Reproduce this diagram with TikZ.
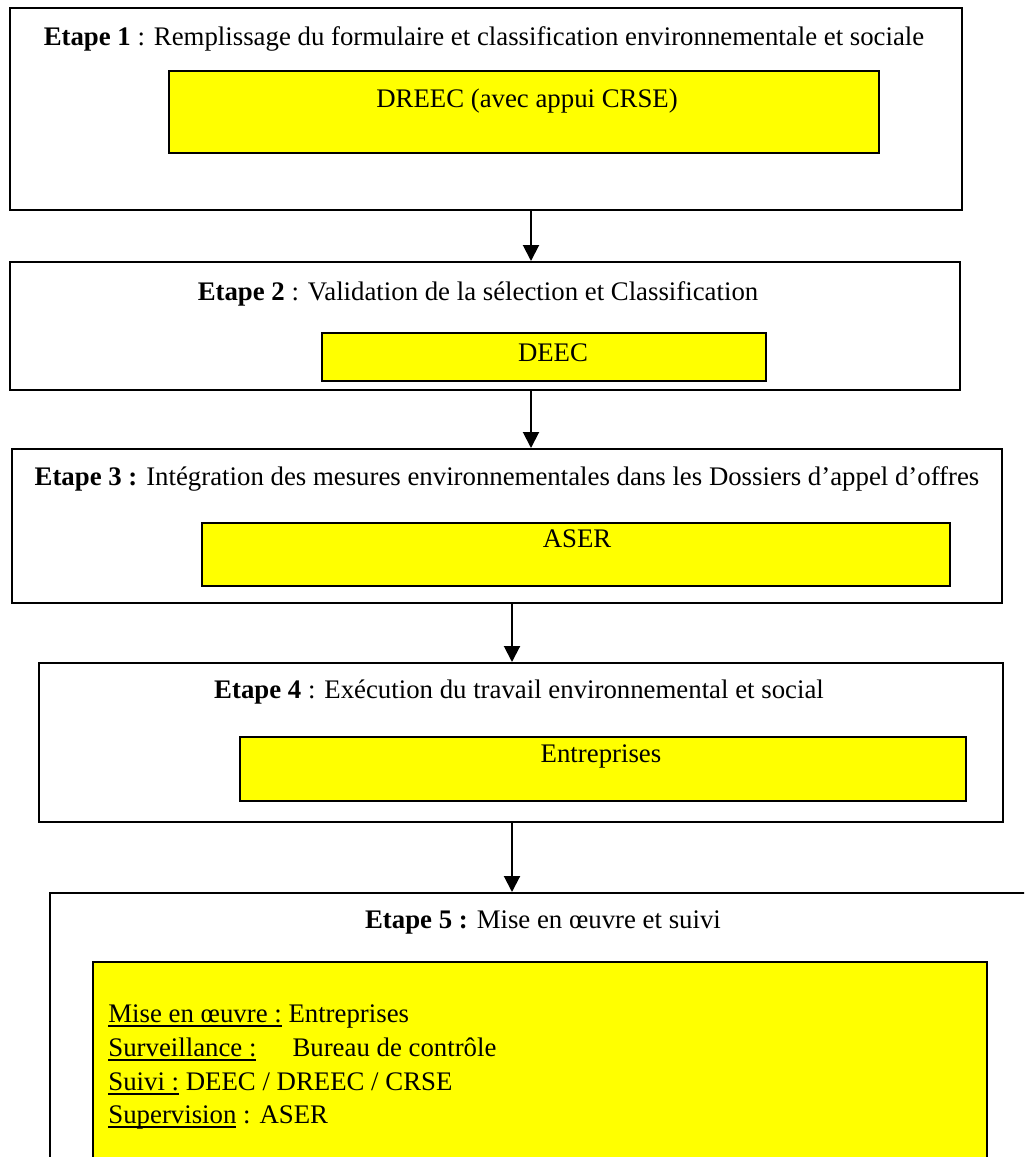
\documentclass[tikz,border=0pt]{standalone}
\usepackage{fontspec}
\setmainfont{Liberation Serif}
\usetikzlibrary{arrows.meta,fit}
\definecolor{roleyellow}{RGB}{255,255,0}
% thick underline set a little below the baseline
\newcommand\uln[1]{\leavevmode\setbox0\hbox{#1}\rlap{\vrule width\wd0 height -1.5pt depth 2.5pt}\box0\relax}
\begin{document}
\begin{tikzpicture}[x=0.5pt,y=-0.5pt,
  stage/.style={draw=black, line width=1pt, fill=white, inner sep=0pt, fit={#1}},
  actor/.style={draw=black, line width=1pt, fill=roleyellow, inner sep=0pt, fit={#1}},
  txt/.style={anchor=base, inner sep=0pt, font=\fontsize{13.4}{16}\selectfont},
  role/.style={anchor=base west, inner sep=0pt, font=\fontsize{13.4}{16}\selectfont},
  flow/.style={line width=1pt, -{Triangle[length=8pt,width=8pt]}}]
\useasboundingbox (0,0) rectangle (1024,1157);
\clip (0,0) rectangle (1024,1157);

% Step 1
\node[stage={(10,8) (962,210)}] (s1) {};
\node[actor={(169,71) (879,153)}] (y1) {};
\node[txt] (t1) at (484,45) {\textbf{Etape 1} : Remplissage du formulaire et classification environnementale et sociale};
\node[txt] (a1) at (527,107) {DREEC (avec appui CRSE)};

% Step 2
\node[stage={(10,262) (960,390)}] (s2) {};
\node[actor={(322,333) (766,381)}] (y2) {};
\node[txt] (t2) at (478,300) {\textbf{Etape 2} : Validation de la sélection et Classification};
\node[txt] (a2) at (553,361) {DEEC};

% Step 3
\node[stage={(12,449) (1002,603)}] (s3) {};
\node[actor={(202,523) (950,586)}] (y3) {};
\node[txt] (t3) at (507,485) {\textbf{Etape 3 :} Intégration des mesures environnementales dans les Dossiers d’appel d’offres};
\node[txt] (a3) at (577,547) {ASER};

% Step 4
\node[stage={(39,663) (1003,822)}] (s4) {};
\node[actor={(240,737) (966,801)}] (y4) {};
\node[txt] (t4) at (519,698) {\textbf{Etape 4} : Exécution du travail environnemental et social};
\node[txt] (a4) at (601,762) {Entreprises};

% Step 5 (runs past the page edge)
\node[stage={(50,893) (1080,1220)}] (s5) {};
\node[actor={(93,962) (987,1220)}] (y5) {};
\node[txt] (t5) at (543,928) {\textbf{Etape 5 :} Mise en œuvre et suivi};
\node[role] (r1) at (108,1022) {\uln{Mise en œuvre :} Entreprises};
\node[role] (r2) at (108,1056) {\uln{Surveillance :}\hspace{18pt}Bureau de contrôle};
\node[role] (r3) at (108,1090) {\uln{Suivi :} DEEC / DREEC / CRSE};
\node[role] (r4) at (108,1123) {\uln{Supervision} : ASER};

% Connectors
\coordinate (c12) at (531,0);
\coordinate (c34) at (512,0);
\draw[flow] (s1.south -| c12) -- (s2.north -| c12);
\draw[flow] (s2.south -| c12) -- (s3.north -| c12);
\draw[flow] (s3.south -| c34) -- (s4.north -| c34);
\draw[flow] (s4.south -| c34) -- (s5.north -| c34);
\end{tikzpicture}
\end{document}
